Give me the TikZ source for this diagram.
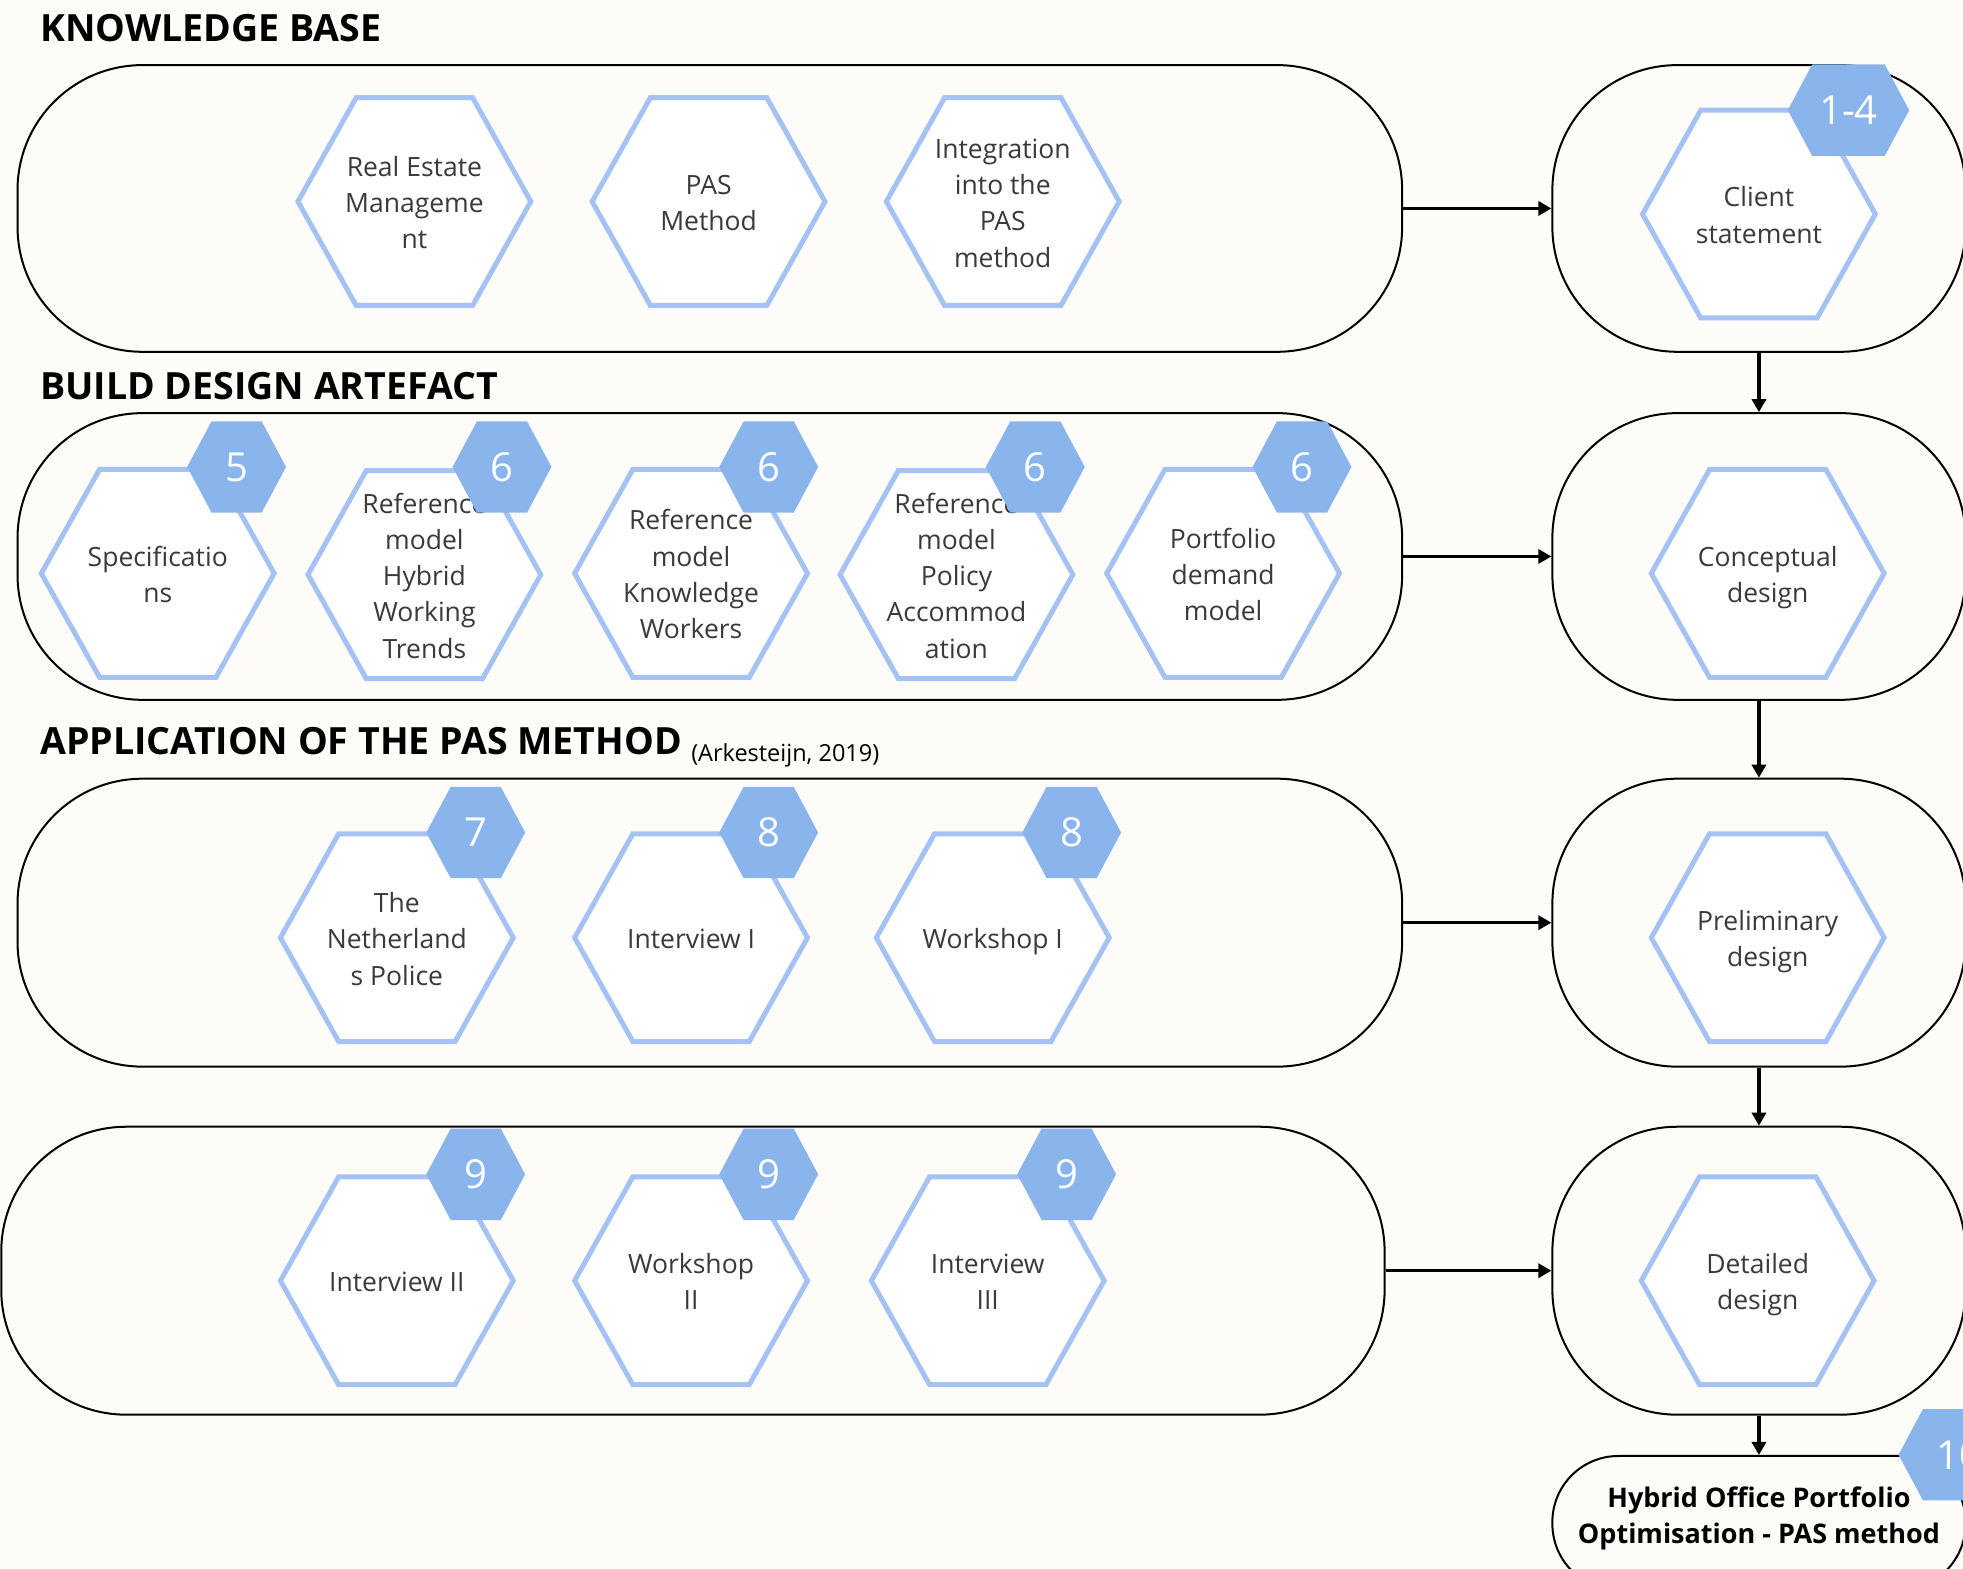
\documentclass[tikz,border=0pt]{standalone}
\usepackage{fontspec}
\setmainfont{Open Sans}
\usetikzlibrary{arrows.meta,fit}

\definecolor{paper}{RGB}{254,252,248}
\definecolor{hexblue}{RGB}{164,194,244}
\definecolor{badgeblue}{RGB}{138,180,236}
\definecolor{hexink}{RGB}{58,58,58}

% hexagon cell: name, x, y, label
\newcommand\hexcell[4]{%
  \path[hexline] (#2,#3) ++(-93,0) -- ++(46.5,-83) -- ++(93,0) -- ++(46.5,83)
    -- ++(-46.5,83) -- ++(-93,0) -- cycle;
  \node[hextext] (#1) at ({#2},{#3+3}) {\strut#4\strut};}

% numbered badge: name, x, y, half width, half top edge, label
\newcommand\badge[6]{%
  \path[badgefill] (#2,#3) ++(-#4,0) -- ++({#4-#5},-36.5) -- ++({2*#5},0)
    -- ++({#4-#5},36.5) -- ++({#5-#4},36.5) -- ++({-2*#5},0) -- cycle;
  \node[badgetext] (#1) at (#2,#3) {#6};}

\begin{document}
\begin{tikzpicture}[x=1.2519pt,y=-1.2519pt,
  panel/.style={draw=black,line width=2pt,fill=paper,rounded corners=125pt,inner sep=0pt},
  endpanel/.style={panel,rounded corners=66pt},
  hexline/.style={draw=hexblue,fill=white,line width=5pt,line join=miter},
  hextext/.style={align=center,text=hexink,font=\fontsize{26.5}{36.3}\selectfont,inner sep=0pt},
  badgefill/.style={fill=badgeblue},
  badgetext/.style={text=white,font=\fontsize{40}{40}\selectfont,inner sep=0pt},
  header/.style={anchor=base west,font=\fontsize{37.5}{40}\selectfont\bfseries,inner sep=0pt},
  citetext/.style={anchor=base west,font=\fontsize{23.5}{25}\selectfont,inner sep=0pt},
  endtext/.style={align=center,font=\fontsize{27}{36.3}\selectfont\bfseries,inner sep=0pt},
  arr/.style={line width=3.5pt,-{Triangle[length=13pt,width=14pt]}},
]
\fill[paper] (0,0) rectangle (1568,1253);
\useasboundingbox (0,0) rectangle (1568,1253);

% section headings
\node[header] (h1) at (32,33) {KNOWLEDGE BASE};
\node[header] (h2) at (32,319) {BUILD DESIGN ARTEFACT};
\node[header] (h3) at (32,603) {APPLICATION OF THE PAS METHOD};
\node[citetext] (cite) at (552,608) {(Arkesteijn, 2019)};

% panels, left column
\node[panel,fit={(14,52) (1120,281)}] (p1l) {};
\node[panel,fit={(14,330) (1120,559)}] (p2l) {};
\node[panel,fit={(14,622) (1120,852)}] (p3l) {};
\node[panel,fit={(1,900) (1106,1130)}] (p4l) {};

% panels, right column
\node[panel,fit={(1240,52) (1570,281)}] (p1r) {};
\node[panel,fit={(1240,330) (1570,559)}] (p2r) {};
\node[panel,fit={(1240,622) (1570,852)}] (p3r) {};
\node[panel,fit={(1240,900) (1570,1130)}] (p4r) {};
\node[endpanel,fit={(1240,1163) (1570,1270)}] (pend) {};
\node[endtext] (hopo) at (1405,1213) {Hybrid Office Portfolio\\Optimisation - PAS method};

% connectors
\draw[arr] (p1l.east) -- (p1r.west);
\draw[arr] (p2l.east) -- (p2r.west);
\draw[arr] (p3l.east) -- (p3r.west);
\draw[arr] (p4l.east) -- (p4r.west);
\draw[arr] (p1r.south) -- (p2r.north);
\draw[arr] (p2r.south) -- (p3r.north);
\draw[arr] (p3r.south) -- (p4r.north);
\draw[arr] (p4r.south) -- (pend.north);

% knowledge base
\hexcell{re}{331}{161}{Real Estate\\Manageme\\nt}
\hexcell{pas}{566}{161}{PAS\\Method}
\hexcell{integ}{801}{161}{Integration\\into the\\PAS\\method}
\hexcell{cs}{1405}{171}{Client\\statement}

% build design artefact
\hexcell{spec}{126}{458}{Specificatio\\ns}
\hexcell{rhw}{339}{459}{Reference\\model\\Hybrid\\Working\\Trends}
\hexcell{rkw}{552}{458}{Reference\\model\\Knowledge\\Workers}
\hexcell{rpa}{764}{459}{Reference\\model\\Policy\\Accommod\\ation}
\hexcell{pdm}{977}{458}{Portfolio\\demand\\model}
\hexcell{cd}{1412}{458}{Conceptual\\design}

% application of the PAS method
\hexcell{police}{317}{749}{The\\Netherland\\s Police}
\hexcell{int1}{552}{749}{Interview I}
\hexcell{ws1}{793}{749}{Workshop I}
\hexcell{pd}{1412}{749}{Preliminary\\design}

\hexcell{int2}{317}{1023}{Interview II}
\hexcell{ws2}{552}{1023}{Workshop\\II}
\hexcell{int3}{789}{1023}{Interview\\III}
\hexcell{dd}{1404}{1023}{Detailed\\design}

% badges
\badge{b14}{1476.5}{88}{48.5}{29}{1-4}
\badge{b5}{189}{373}{39.5}{20}{5}
\badge{b6a}{401}{373}{39.5}{20}{6}
\badge{b6b}{614}{373}{39.5}{20}{6}
\badge{b6c}{827}{373}{39.5}{20}{6}
\badge{b6d}{1040}{373}{39.5}{20}{6}
\badge{b7}{380}{665}{39.5}{20}{7}
\badge{b8a}{614}{665}{39.5}{20}{8}
\badge{b8b}{856}{665}{39.5}{20}{8}
\badge{b9a}{380}{938}{39.5}{20}{9}
\badge{b9b}{614}{938}{39.5}{20}{9}
\badge{b9c}{852}{938}{39.5}{20}{9}
\badge{b10}{1565}{1162}{48.5}{29}{10}
\end{tikzpicture}
\end{document}
